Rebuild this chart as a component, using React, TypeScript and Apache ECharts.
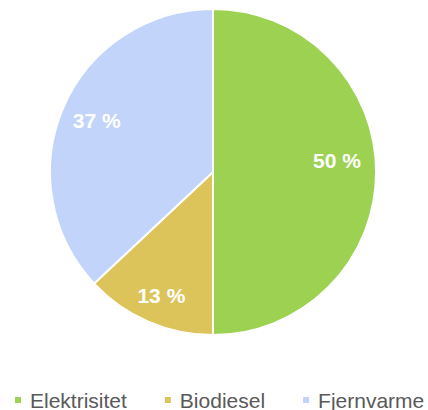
import React, { useEffect, useRef } from "react";
import * as echarts from "echarts";

const categories = ["Elektrisitet", "Biodiesel", "Fjernvarme"];
const values = [50, 13, 37];
const colors = ["#9dd152", "#dcc35a", "#c3d4fb"];
const labelOffsets = [[-6, -12], [0, 4], [3, 0]];

export default function App() {
  const ref = useRef<HTMLDivElement>(null);
  useEffect(() => {
    if (!ref.current) return;
    document.body.style.margin = "0";
    document.body.style.overflow = "hidden";
    const chart = echarts.init(ref.current, null, { renderer: "svg" });
    const data = categories.map((name, i) => ({
      name,
      value: values[i],
      itemStyle: { color: colors[i] },
    }));
    chart.setOption({
      animation: false,
      textStyle: { fontFamily: "Liberation Sans, Arial, sans-serif" },
      legend: {
        data: categories,
        left: 13,
        top: 389,
        width: 414,
        padding: 0,
        icon: "rect",
        itemWidth: 8,
        itemHeight: 8,
        itemGap: 36,
        textStyle: {
          color: "#595959",
          fontSize: 21,
          lineHeight: 22,
          fontFamily: "Liberation Sans, Arial, sans-serif",
          padding: [0, 0, 0, 3],
        },
      },
      series: [
        {
          type: "pie",
          center: [213, 172],
          radius: [0, 163],
          startAngle: 90,
          clockwise: true,
          data,
          label: { show: false },
          labelLine: { show: false },
          itemStyle: { borderColor: "#ffffff", borderWidth: 2 },
          silent: true,
        },
        {
          type: "pie",
          center: [213, 172],
          radius: [91, 163],
          startAngle: 90,
          clockwise: true,
          data: categories.map((name, i) => ({
            name,
            value: values[i],
            label: { offset: labelOffsets[i] },
          })),
          itemStyle: { color: "rgba(0,0,0,0)" },
          label: {
            show: true,
            position: "inside",
            formatter: (p: any) => `${p.value} %`,
            color: "#ffffff",
            fontSize: 21,
            fontWeight: "bold",
            fontFamily: "Liberation Sans, Arial, sans-serif",
          },
          labelLine: { show: false },
          silent: true,
          legendHoverLink: false,
        },
      ],
    });
    return () => chart.dispose();
  }, []);
  return (
    <div
      ref={ref}
      style={{ position: "absolute", left: 0, top: 0, width: 428, height: 410 }}
    />
  );
}
